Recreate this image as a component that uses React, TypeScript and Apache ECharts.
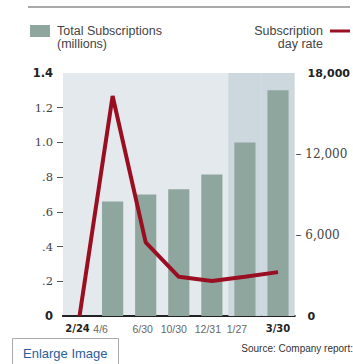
import React, { useEffect, useRef } from "react";
import * as echarts from "echarts";

const categories = ["2/24", "4/6", "6/30", "10/30", "12/31", "1/27", "3/30"];
const subscriptions = [null, 0.66, 0.7, 0.73, 0.815, 1.0, 1.3];
const dayRate = [0, 16300, 5450, 2900, 2600, 2900, 3250];
const highlight = [null, null, null, null, null, 1.4, 1.4];
const leftTicks = { min: 0, max: 1.4, interval: 0.2 };
const leftDashTicks = [0.2, 0.4, 0.6, 0.8, 1.0, 1.2];
const rightTicks = { min: 0, max: 18000, interval: 6000 };
const boldCategories = ["2/24", "3/30"];
const labelShift = [2, 12, 3, 5, 4, 8, 0];

const BAR = "#8fa69f";
const RED = "#9a0e22";

export default function App() {
  const ref = useRef<HTMLDivElement>(null);
  useEffect(() => {
    document.body.style.margin = "0";
    const chart = echarts.init(ref.current!, null, { renderer: "svg" });
    const rich: any = {};
    categories.forEach((c, i) => {
      const bold = boldCategories.includes(c);
      rich["l" + i] = {
        fontFamily: bold ? "DejaVu Sans" : "Liberation Sans",
        fontWeight: bold ? "bold" : "normal",
        fontSize: bold ? 10 : 10.5,
        color: bold ? "#222" : "#666",
        padding: [0, labelShift[i] * 2, 0, 0],
      };
    });
    chart.setOption({
      animation: false,
      grid: {
        left: 63,
        right: 58,
        top: 73,
        bottom: 48,
        show: true,
        backgroundColor: "#e3e9ed",
        borderWidth: 0,
      },
      xAxis: [
        {
          type: "category",
          data: categories,
          position: "bottom",
          axisLine: { lineStyle: { color: "#222", width: 2 } },
          axisTick: { show: false },
          axisLabel: {
            margin: 7,
            interval: 0,
            hideOverlap: false,
            formatter: (v: string, i: number) => `{l${i}|${v}}`,
            rich,
          },
        },
        {
          type: "category",
          data: categories,
          position: "top",
          axisLine: { show: true, lineStyle: { color: "#222", width: 2 } },
          axisTick: { show: false },
          axisLabel: { show: false },
        },
      ],
      yAxis: [
        {
          type: "value",
          ...leftTicks,
          axisLine: { show: false },
          axisTick: {
            show: true,
            customValues: leftDashTicks,
            length: 6,
            inside: false,
            lineStyle: { color: "#555", width: 1 },
          },
          splitLine: { show: false },
          axisLabel: {
            margin: 10,
            fontFamily: "DejaVu Serif",
            fontSize: 11.5,
            color: "#444",
            formatter: (v: number) => {
              const r = Math.round(v * 10) / 10;
              if (r === 0) return "{b|0}";
              if (r === 1.4) return "{b|1.4}";
              return r >= 1 ? r.toFixed(1) : r.toFixed(1).replace(/^0/, "");
            },
            rich: {
              b: { fontFamily: "DejaVu Sans", fontWeight: "bold", fontSize: 11.5, color: "#222" },
            },
          },
        },
        {
          type: "value",
          ...rightTicks,
          position: "right",
          axisLine: { show: false },
          axisTick: { show: false },
          splitLine: { show: false },
          axisLabel: {
            margin: 1,
            fontFamily: "DejaVu Serif",
            fontSize: 12,
            color: "#444",
            formatter: (v: number) => {
              if (v === 0) return "{b|0}";
              if (v === 18000) return "{b|18,000}";
              return "\u2013 " + v.toLocaleString("en-US");
            },
            rich: {
              b: { fontFamily: "DejaVu Sans", fontWeight: "bold", fontSize: 11, color: "#222", padding: [0, 0, 0, 12] },
            },
          },
        },
      ],
      series: [
        {
          type: "bar",
          xAxisIndex: 1,
          yAxisIndex: 0,
          data: highlight,
          barCategoryGap: "0%",
          barWidth: "100%",
          itemStyle: { color: "#ccd7de" },
          silent: true,
          z: 1,
        },
        {
          type: "bar",
          xAxisIndex: 0,
          yAxisIndex: 0,
          data: subscriptions,
          barCategoryGap: "36%",
          itemStyle: { color: BAR },
          z: 2,
        },
        {
          type: "line",
          xAxisIndex: 0,
          yAxisIndex: 1,
          data: dayRate,
          showSymbol: false,
          symbol: "none",
          lineStyle: { color: RED, width: 4 },
          z: 3,
        },
      ],
      graphic: [
        { type: "line", shape: { x1: 28, y1: 7, x2: 350, y2: 7 }, style: { stroke: "#aaa", lineWidth: 2 } },
        { type: "rect", shape: { x: 30, y: 25, width: 20, height: 12 }, style: { fill: BAR } },
        {
          type: "text",
          x: 57,
          y: 24,
          style: {
            text: "Total Subscriptions\n(millions)",
            font: "12.5px 'Liberation Sans'",
            fill: "#444",
            lineHeight: 13,
          },
        },
        {
          type: "text",
          x: 323,
          y: 24,
          style: {
            text: "Subscription\nday rate",
            font: "12.5px 'Liberation Sans'",
            fill: "#444",
            align: "right",
            lineHeight: 13,
          },
        },
        { type: "line", shape: { x1: 330, y1: 31, x2: 350, y2: 31 }, style: { stroke: RED, lineWidth: 3 } },
        {
          type: "rect",
          shape: { x: 12.5, y: 338.5, width: 106, height: 40 },
          style: { fill: "#fff", stroke: "#aaa", lineWidth: 1 },
        },
        {
          type: "text",
          x: 23,
          y: 353,
          style: {
            text: "Enlarge Image",
            font: "13px 'Liberation Sans'",
            fill: "#2b5e9b",
            verticalAlign: "middle",
          },
        },
        {
          type: "text",
          x: 353,
          y: 348,
          style: {
            text: "Source: Company report:",
            font: "10px 'Liberation Sans'",
            fill: "#333",
            align: "right",
            verticalAlign: "middle",
          },
        },
      ],
    });
    return () => chart.dispose();
  }, []);
  return <div ref={ref} style={{ width: 353, height: 364 }} />;
}
